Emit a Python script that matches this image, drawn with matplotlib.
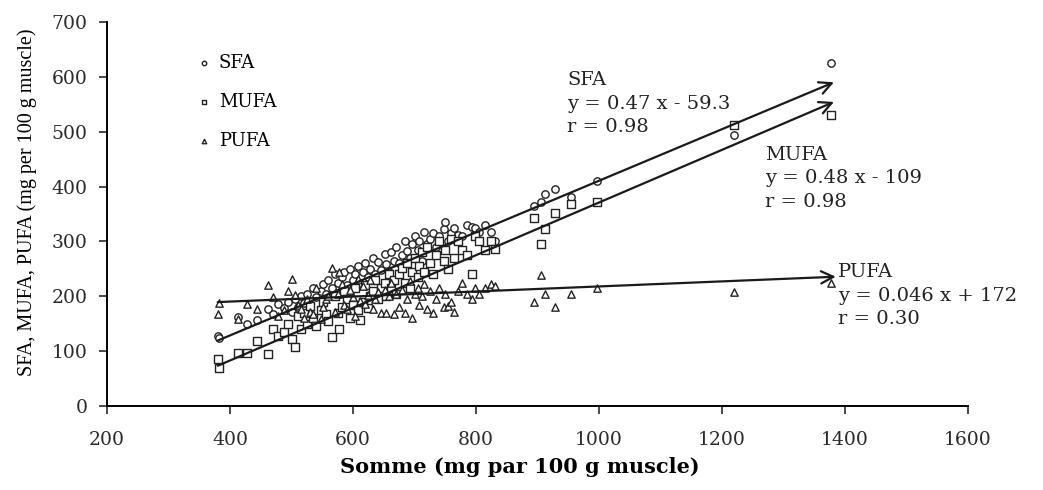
import matplotlib
matplotlib.use("Agg")
from matplotlib import pyplot as plt

plt.rcParams['font.family'] = ['DejaVu Serif']

# somme des acides gras (mg par 100 g muscle)
somme = [380, 382, 413, 428, 444, 462, 470, 478,
         488, 495, 501, 505, 510, 515, 520, 525, 530, 535, 540, 548, 552, 556, 560,
         566, 570, 575, 578, 582, 585, 590, 595, 600, 603, 608, 611, 616, 620, 624,
         628, 632, 636, 640, 645, 652, 654, 658, 662, 666,
         670, 675, 680, 684, 688, 692, 696, 700, 705, 708, 712, 716, 720, 725, 730,
         735, 740, 748, 750, 755, 760, 765, 770, 778, 785, 793, 798, 805, 815, 824, 831,
         895, 905, 912, 928, 955, 997, 1220, 1378]

sfa = [128, 124, 162, 150, 157, 176, 168, 186,
       178, 190, 172, 195, 180, 200, 188, 205, 176, 215, 198, 210, 222, 205, 230,
       215, 240, 225, 205, 235, 245, 220, 250, 230, 240, 255, 225, 245, 260, 236,
       250, 270, 240, 262, 248, 278, 258, 245, 280, 265,
       290, 260, 275, 300, 282, 270, 295, 310, 285, 300, 265, 318, 295, 305, 315,
       290, 310, 322, 335, 300, 315, 325, 312, 310, 330, 327, 325, 318, 330, 318, 300,
       364, 372, 386, 395, 381, 410, 494, 625]

mufa = [86, 70, 97, 96, 118, 95, 140, 128,
        135, 150, 122, 108, 165, 140, 170, 150, 182, 160, 145, 175, 190, 168, 155,
        126, 200, 170, 140, 180, 210, 195, 160, 185, 215, 175, 157, 190, 220, 178,
        200, 210, 230, 195, 215, 225, 200, 240, 215, 230,
        205, 240, 252, 225, 260, 215, 245, 270, 235, 255, 280, 245, 290, 260, 240,
        275, 300, 265, 285, 250, 305, 270, 300, 285, 275, 240, 310, 300, 285, 300, 287,
        342, 295, 322, 352, 368, 372, 512, 530]

pufa = [168, 188, 158, 186, 176, 220, 198, 164,
        175, 210, 231, 202, 185, 176, 160, 195, 172, 168, 215, 158, 180, 196, 200,
        251, 172, 205, 245, 222, 185, 176, 212, 198, 165, 232, 192, 218, 186, 202,
        230, 176, 195, 208, 170, 212, 170, 200, 225, 168,
        205, 180, 212, 170, 196, 228, 160, 205, 215, 185, 200, 222, 176, 210, 170,
        195, 215, 180, 205, 183, 190, 172, 210, 225, 205, 195, 215, 205, 215, 222, 218,
        189, 239, 204, 180, 204, 215, 208, 225]

series = ['SFA', 'MUFA', 'PUFA']
markers = ['o', 's', '^']
pentes = [0.47, 0.48, 0.046]
constantes = [-59.3, -109, 172]
equations = ['y = 0.47 x - 59.3', 'y = 0.48 x - 109', 'y = 0.046 x + 172']
coef_r = ['r = 0.98', 'r = 0.98', 'r = 0.30']
x_debut = 380
x_fin = [1382, 1382, 1385]
pos_texte = [(948, 610), (1270, 474), (1389, 260)]

fig = plt.figure(figsize=(10.43, 4.9), dpi=100)
ax = fig.add_axes([0.1026, 0.1714, 0.8255, 0.7836])

valeurs = [sfa, mufa, pufa]
for i in range(3):
    ax.scatter(somme, valeurs[i], marker=markers[i], s=28, facecolors='white',
               edgecolors='#222222', linewidths=1.0, label=series[i], zorder=3)

for i in range(3):
    y0 = pentes[i] * x_debut + constantes[i]
    y1 = pentes[i] * x_fin[i] + constantes[i]
    ax.annotate('', xy=(x_fin[i], y1), xytext=(x_debut, y0),
                arrowprops=dict(arrowstyle='->', lw=1.6, color='#1a1a1a',
                                mutation_scale=22, shrinkA=0, shrinkB=0), zorder=4)
    ax.text(pos_texte[i][0], pos_texte[i][1],
            series[i] + '\n' + equations[i] + '\n' + coef_r[i],
            fontsize=14, va='top', ha='left', linespacing=1.38, color='#222222')

leg = ax.legend(loc='upper left', bbox_to_anchor=(0.092, 0.935), frameon=False,
                fontsize=13, markerscale=0.6, handletextpad=0.2, handlelength=1.2,
                labelspacing=1.15, borderaxespad=0)

ax.set_xlim(200, 1600)
ax.set_ylim(0, 700)
ax.set_xticks(range(200, 1601, 200))
ax.set_yticks(range(0, 701, 100))
ax.spines['top'].set_visible(False)
ax.spines['right'].set_visible(False)
ax.spines['left'].set_linewidth(1.4)
ax.spines['bottom'].set_linewidth(1.4)
ax.tick_params(direction='out', length=6, width=1.2, labelsize=13.5, colors='#2a2a2a', pad=8)
ax.tick_params(axis='x', pad=12)

ax.set_ylabel('SFA, MUFA, PUFA (mg per 100 g muscle)', fontsize=14.5,
              family='Liberation Serif')
ax.yaxis.set_label_coords(-0.081, 0.53)
ax.set_xlabel('Somme (mg par 100 g muscle)', fontsize=15, fontweight='bold')
ax.xaxis.set_label_coords(0.48, -0.133)

fig.savefig('out.png', dpi=100)
